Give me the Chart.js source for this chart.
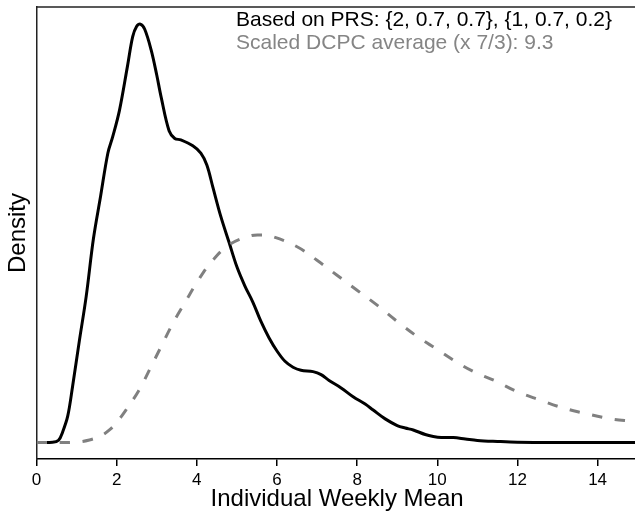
<!DOCTYPE html>
<html>
<head>
<meta charset="utf-8">
<script src="https://cdn.jsdelivr.net/npm/chart.js@4"></script>
<style>
  html, body { margin: 0; padding: 0; overflow: hidden; background: #fff; }
  #wrap { width: 640px; height: 514px; }
</style>
</head>
<body>
<div id="wrap"><canvas id="c" width="640" height="514"></canvas></div>
<script>
// ---- data ----
const prsX = [0, 0.4, 0.55, 0.65, 0.78, 0.9, 1.07, 1.24, 1.42, 1.6, 1.78, 1.9, 2.07, 2.27, 2.4, 2.5, 2.59, 2.7, 2.86, 3.0, 3.11, 3.31, 3.45, 3.6, 3.9, 4.1, 4.25, 4.4, 4.6, 4.8, 5.0, 5.2, 5.4, 5.6, 5.8, 6.0, 6.2, 6.4, 6.6, 6.9, 7.1, 7.3, 7.6, 7.9, 8.2, 8.4, 8.7, 9.0, 9.2, 9.4, 9.7, 9.9, 10.1, 10.4, 10.7, 11.0, 11.5, 12.0, 13.0, 15.0];
const prsY = [0, 0.0001, 0.0015, 0.007, 0.018, 0.038, 0.069, 0.099, 0.138, 0.167, 0.196, 0.207, 0.225, 0.255, 0.275, 0.282, 0.2835, 0.280, 0.266, 0.249, 0.234, 0.211, 0.206, 0.205, 0.201, 0.196, 0.188, 0.173, 0.153, 0.136, 0.119, 0.106, 0.095, 0.082, 0.071, 0.062, 0.055, 0.051, 0.049, 0.048, 0.046, 0.042, 0.037, 0.031, 0.026, 0.022, 0.016, 0.0115, 0.0098, 0.0085, 0.0054, 0.0041, 0.0034, 0.0034, 0.0024, 0.0014, 0.0007, 0.0002, 0, 0];

const dcpcX = [0, 0.5, 1.0, 1.32, 1.6, 1.82, 2.0, 2.23, 2.56, 2.86, 3.11, 3.4, 3.69, 4.06, 4.4, 4.81, 5.33, 5.6, 5.83, 6.49, 6.99, 7.49, 7.99, 8.49, 9.0, 9.5, 10.0, 10.4, 10.9, 11.48, 11.98, 12.56, 13.14, 13.64, 14.27, 14.89, 15.0];
const dcpcY = [0, 0, 0.0003, 0.0017, 0.0044, 0.0085, 0.0136, 0.022, 0.0356, 0.0515, 0.065, 0.0806, 0.0942, 0.111, 0.1236, 0.134, 0.140, 0.1406, 0.140, 0.1328, 0.1236, 0.1135, 0.1033, 0.0932, 0.082, 0.0718, 0.063, 0.0559, 0.0481, 0.0413, 0.0346, 0.0288, 0.0234, 0.020, 0.0163, 0.0142, 0.0139];

const xTicks = [0, 2, 4, 6, 8, 10, 12, 14];
const legendLines = ["Based on PRS: {2, 0.7, 0.7}, {1, 0.7, 0.2}", "Scaled DCPC average (x 7/3): 9.3"];
const legendColors = ["#000000", "#858585"];
const xTitle = "Individual Weekly Mean";
const yTitle = "Density";

const FONT = "'Liberation Sans', Arial, Helvetica, sans-serif";

const toPts = (xs, ys) => xs.map((x, i) => ({x: x, y: ys[i]}));

const framePlugin = {
  id: 'frame',
  afterDraw(chart) {
    const {ctx, chartArea: a} = chart;
    ctx.save();
    ctx.strokeStyle = '#222';
    ctx.lineWidth = 1.5;
    ctx.beginPath();
    ctx.moveTo(a.left, a.top);
    ctx.lineTo(a.right, a.top);
    ctx.stroke();
    // legend text
    ctx.font = '21px ' + FONT;
    ctx.textAlign = 'left';
    ctx.textBaseline = 'middle';
    const ys = [20, 43];
    legendLines.forEach((t, i) => {
      ctx.fillStyle = legendColors[i];
      ctx.fillText(t, 236, ys[i]);
    });
    ctx.restore();
  }
};

new Chart(document.getElementById('c'), {
  type: 'line',
  data: {
    datasets: [
      {
        label: 'DCPC',
        data: toPts(dcpcX, dcpcY),
        borderColor: '#808080',
        borderWidth: 3,
        borderDash: [10.5, 12.5],
        pointRadius: 0,
        tension: 0.4,
        fill: false
      },
      {
        label: 'PRS',
        data: toPts(prsX, prsY),
        borderColor: '#000000',
        borderWidth: 3,
        pointRadius: 0,
        tension: 0.35,
        fill: false
      }
    ]
  },
  options: {
    responsive: false,
    animation: false,
    devicePixelRatio: 1,
    layout: { padding: { left: 0, top: 7, right: 2.3, bottom: 0 } },
    plugins: { legend: { display: false }, tooltip: { enabled: false } },
    scales: {
      x: {
        type: 'linear',
        min: 0,
        max: 15,
        afterFit(s) { s.height = 55; },
        afterBuildTicks(s) { s.ticks = xTicks.map(v => ({value: v})); },
        ticks: { includeBounds: false, color: '#000', font: { family: FONT, size: 17 }, padding: 4, maxRotation: 0 },
        grid: { display: true, drawOnChartArea: false, drawTicks: true, tickLength: 7, color: '#000', lineWidth: 1.5 },
        border: { display: true, color: '#000', width: 1.5 },
        title: { display: true, text: xTitle, color: '#000', font: { family: FONT, size: 24 }, padding: { top: 0, bottom: 0 } }
      },
      y: {
        type: 'linear',
        min: -0.01118,
        max: 0.29505,
        afterFit(s) { s.width = 36.5; },
        ticks: { display: false },
        grid: { display: false },
        border: { display: true, color: '#222', width: 1.5 },
        title: { display: true, text: yTitle, color: '#000', font: { family: FONT, size: 24 }, padding: { top: 4, bottom: 0 } }
      }
    }
  },
  plugins: [framePlugin]
});
</script>
</body>
</html>
